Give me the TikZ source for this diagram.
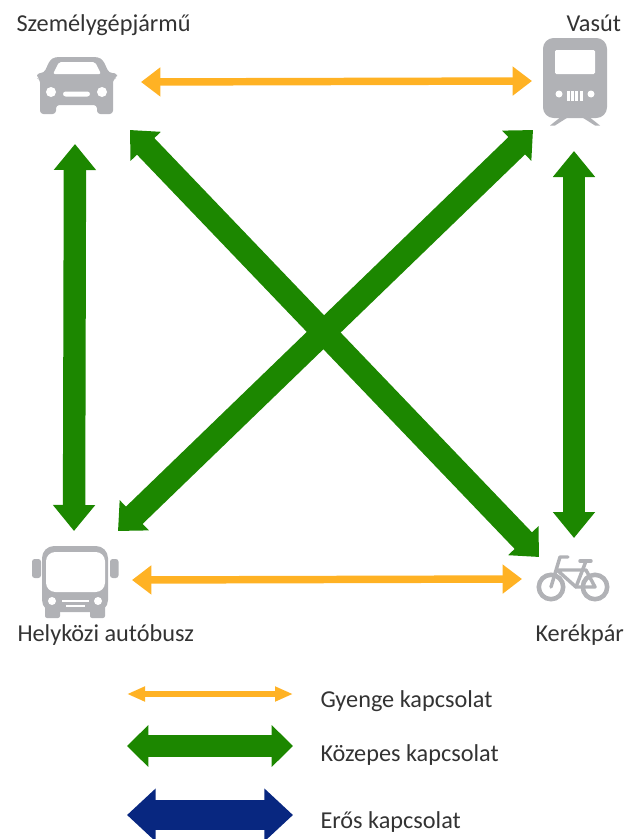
\documentclass[tikz,border=0pt]{standalone}
\usepackage{fontspec}
\setmainfont{Carlito}
\usetikzlibrary{arrows.meta}

\definecolor{weakcolor}{RGB}{255,178,36}
\definecolor{midcolor}{RGB}{28,135,0}
\definecolor{strongcolor}{RGB}{8,39,128}
\definecolor{iconcolor}{RGB}{177,178,182}
\definecolor{labelcolor}{RGB}{51,51,51}

\tikzset{every picture/.style={line width=0.75pt}}
\tikzset{
  weaklink/.style={color=weakcolor, line width=5.6pt, {Triangle[width=21pt,length=14.5pt]}-{Triangle[width=21pt,length=14.5pt]}},
  midlink/.style={color=midcolor, line width=16.8pt, {Triangle[width=30.5pt,length=19.5pt]}-{Triangle[width=30.5pt,length=19.5pt]}},
  crosslink/.style={color=midcolor, line width=18pt, {Triangle[width=30.5pt,length=17pt]}-{Triangle[width=30.5pt,length=17pt]}},
  keyweak/.style={color=weakcolor, line width=4.2pt, {Triangle[width=10.5pt,length=13.5pt]}-{Triangle[width=10.5pt,length=13.5pt]}},
  keymid/.style={color=midcolor, line width=16pt, {Triangle[width=30.5pt,length=16pt]}-{Triangle[width=30.5pt,length=16pt]}},
  keystrong/.style={color=strongcolor, line width=22.5pt, {Triangle[width=38.5pt,length=21.5pt]}-{Triangle[width=38.5pt,length=21.5pt]}},
  labeltext/.style={color=labelcolor, inner sep=0pt, anchor=base west, font=\fontsize{18.2pt}{21pt}\selectfont},
  iconfill/.style={fill=iconcolor, draw=none},
  iconhole/.style={fill=white, draw=none},
  iconline/.style={color=iconcolor, line width=3.4pt}
}

\begin{document}
\begin{tikzpicture}[x=0.75pt,y=0.75pt,yscale=-1,xscale=1]
\useasboundingbox (0,0) rectangle (626,839);

%Shape: Car
\draw [iconfill, rounded corners=2.5pt] (37,73) -- (44,73) -- (50,60) -- (55,57) -- (98,57) -- (103,60) -- (109,73) -- (117,73) -- (117,78) -- (113,79) -- (113,114) -- (97,114) -- (97,105) -- (56,105) -- (56,114) -- (40,114) -- (40,79) -- (37,78) -- cycle ;
\draw [iconhole, rounded corners=1.5pt] (53,74) -- (59,62) -- (95,62) -- (101,74) -- cycle ;
\draw [iconhole] (51,92) circle [radius=5] ;
\draw [iconhole] (102,92) circle [radius=5] ;
\draw [iconhole, rounded corners=2pt] (63,91.5) rectangle (90,96.5) ;

%Shape: Train
\draw [iconfill] (562,116) -- (550,125.5) -- (555,125.5) -- (570,116) -- cycle ;
\draw [iconfill] (588,116) -- (600,125.5) -- (595,125.5) -- (580,116) -- cycle ;
\draw [iconfill, rounded corners=8pt] (543,38) rectangle (607,118) ;
\draw [iconhole, rounded corners=1pt] (555,50) rectangle (595,74) ;
\draw [iconhole] (559,94) circle [radius=3.5] ;
\draw [iconhole] (591,94) circle [radius=3.5] ;
\foreach \barx in {567,571.2,575.4,579.6} {
  \draw [iconhole] (\barx,91) rectangle (\barx+2.9,101) ;
}

%Shape: Bus
\draw [iconfill, rounded corners=2pt] (32,559) rectangle (41,578) ;
\draw [iconfill, rounded corners=2pt] (110,559) rectangle (118.5,578) ;
\draw [iconfill, rounded corners=9pt] (42,546) rectangle (108,612) ;
\draw [iconfill, rounded corners=1.5pt] (45,606) rectangle (60,618) ;
\draw [iconfill, rounded corners=1.5pt] (90,606) rectangle (105,618) ;
\draw [iconhole, rounded corners=7pt] (46,552) rectangle (105,592) ;
\draw [iconhole] (52,601) circle [radius=4] ;
\draw [iconhole] (98,601) circle [radius=4] ;
\draw [iconhole] (62,600.2) rectangle (89,601.8) ;
\draw [iconhole] (66,605.2) rectangle (85,606.8) ;

%Shape: Bike
\draw [iconline] (551,587) circle [radius=12.2] ;
\draw [iconline] (595,587) circle [radius=12.2] ;
\draw [iconline, line width=2.6pt, line join=round, line cap=round] (568,557) -- (560,557) -- (551,587) ;
\draw [iconline, line width=2.6pt, line join=round, line cap=round] (557,570) -- (586,570) -- (595,587) -- (576,587) -- (557,570) ;
\draw [iconline, line width=2.6pt, line cap=round] (586,561) -- (576,587) ;
\draw [iconline, line width=2.6pt, line cap=round] (580,561) -- (591,561) ;

% Text Node
\draw (16,31) node [labeltext] (carlabel) {Személygépjármű};
% Text Node
\draw (566,31) node [labeltext] (trainlabel) {Vasút};
% Text Node
\draw (17,641) node [labeltext] (buslabel) {Helyközi autóbusz};
% Text Node
\draw (535,641) node [labeltext] (bikelabel) {Kerékpár};
% Text Node
\draw (320,707.5) node [labeltext] (weaklabel) {Gyenge kapcsolat};
% Text Node
\draw (320,761.5) node [labeltext] (midlabel) {Közepes kapcsolat};
% Text Node
\draw (320,828.5) node [labeltext] (stronglabel) {Erős kapcsolat};

%Arrow ends
\coordinate (cartrain) at (141,82) ;
\coordinate (traincar) at (532,81) ;
\coordinate (busbike) at (132,580) ;
\coordinate (bikebus) at (522,579) ;
\coordinate (carbus) at (75,144) ;
\coordinate (buscar) at (74,531) ;
\coordinate (trainbike) at (574,151) ;
\coordinate (biketrain) at (574,538) ;
\coordinate (carbike) at (130,130) ;
\coordinate (bikecar) at (539,557) ;
\coordinate (trainbus) at (533,130) ;
\coordinate (bustrain) at (118,531) ;
\coordinate (keyweakl) at (127,694) ;
\coordinate (keyweakr) at (293,694) ;
\coordinate (keymidl) at (127,746) ;
\coordinate (keymidr) at (293,746) ;
\coordinate (keystrongl) at (127,815) ;
\coordinate (keystrongr) at (293,815) ;

%Straight Lines
\draw [weaklink] (cartrain) -- (traincar) ;
%Straight Lines
\draw [weaklink] (busbike) -- (bikebus) ;
%Straight Lines
\draw [midlink] (carbus) -- (buscar) ;
%Straight Lines
\draw [midlink] (trainbike) -- (biketrain) ;
%Straight Lines
\draw [crosslink] (carbike) -- (bikecar) ;
%Straight Lines
\draw [crosslink] (trainbus) -- (bustrain) ;
%Straight Lines
\draw [keyweak] (keyweakl) -- (keyweakr) ;
%Straight Lines
\draw [keymid] (keymidl) -- (keymidr) ;
%Straight Lines
\draw [keystrong] (keystrongl) -- (keystrongr) ;
\end{tikzpicture}
\end{document}
